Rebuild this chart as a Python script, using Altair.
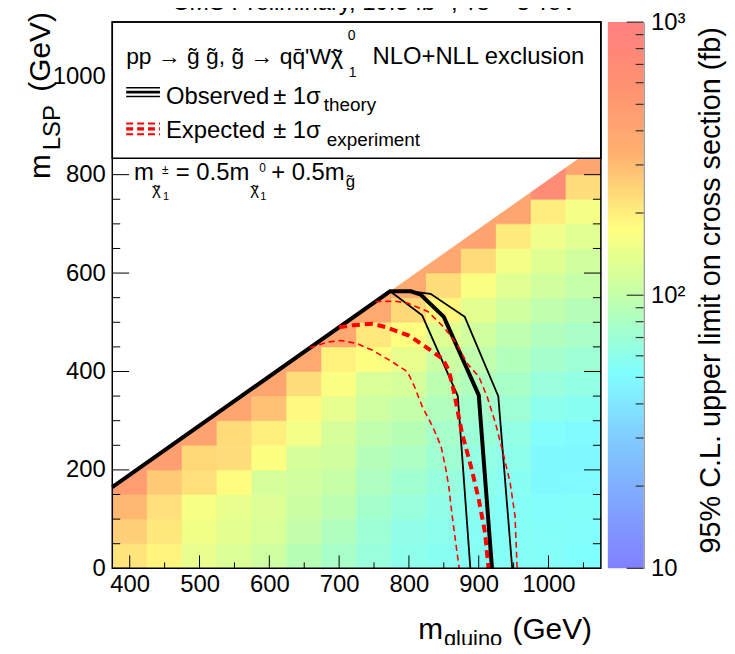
import altair as alt
import pandas as pd
import math

FONT = "Liberation Sans"
W, H = 492, 550

# ---------------- data ----------------
mgluino = [400, 450, 500, 550, 600, 650, 700, 750, 800, 850, 900, 950, 1000, 1050]
mlsp_edges = [0, 50, 100, 150, 200, 250, 300, 350, 400, 450, 500, 550, 600, 650, 700, 750, 800, 850, 900]
# 95% CL upper limit (fb), per gluino column, rows from mLSP=0 upwards
limits = [
    [215, 255, 310, 470, 470],
    [190, 210, 225, 270, 460, 460],
    [140, 155, 162, 225, 240, 420, 420],
    [124, 134, 140, 178, 228, 232, 400, 400],
    [110, 122, 126, 120, 172, 198, 285, 400, 400],
    [90, 99, 108, 113, 120, 158, 182, 228, 380, 380],
    [78, 84, 94, 103, 113, 120, 138, 168, 195, 380, 380],
    [67, 70, 76, 82, 88, 97, 110, 122, 172, 208, 380, 380],
    [60, 62, 67, 73, 81, 90, 100, 118, 140, 175, 240, 375, 375],
    [57, 59, 62, 66, 72, 77, 85, 94, 108, 130, 188, 230, 390, 390],
    [56, 56, 58, 60, 64, 69, 75, 84, 97, 113, 135, 168, 232, 410, 410],
    [55, 55, 55, 57, 60, 64, 71, 78, 86, 96, 112, 132, 158, 205, 405, 405],
    [54, 54, 53, 49, 49, 53, 59, 67, 75, 85, 97, 113, 130, 152, 200, 690, 690],
    [52, 53, 54, 50, 48, 50, 57, 63, 71, 79, 89, 101, 114, 133, 160, 228, 400, 400],
]

# kinematic boundary (white region above it)
diag_x = [375, 1075]
diag_y = [165, 865]
y_top = 1110

# exclusion contours
obs_x = [375, 773, 803, 817, 850, 900, 919]
obs_y = [165, 563, 563, 556, 511, 352, 0]
obs_up_x = [773, 803, 831, 880, 928, 948]
obs_up_y = [563, 563, 558, 511, 350, 0]
obs_dn_x = [773, 819, 870, 888]
obs_dn_y = [563, 514, 350, 0]
exp_x = [700, 720, 748, 767, 800, 817, 834, 848, 857, 864, 876, 890, 900, 909, 914]
exp_y = [490, 494, 497, 490, 473, 457, 440, 426, 403, 362, 275, 201, 140, 73, 0]
exp_up_x = [752, 779, 798, 827, 850, 869, 884, 900, 912, 924, 936, 945, 952, 955]
exp_up_y = [542, 543, 539, 522, 490, 455, 415, 390, 349, 295, 228, 174, 106, 0]
exp_dn_x = [658, 684, 703, 725, 748, 772, 791, 798, 808, 819, 834, 846, 853, 857, 862, 867, 872]
exp_dn_y = [448, 460, 463, 457, 443, 423, 406, 399, 369, 329, 288, 248, 201, 167, 106, 53, 0]

# axis ticks
x_major = [400, 500, 600, 700, 800, 900, 1000]
x_minor = [450, 550, 650, 750, 850, 950, 1050]
y_major = [0, 200, 400, 600, 800, 1000]
y_minor = [50, 100, 150, 250, 300, 350, 450, 500, 550, 650, 700, 750, 850, 900, 950, 1050, 1100]
cb_major = [10, 100, 1000]
cb_minor = [20, 30, 40, 50, 60, 70, 80, 90, 200, 300, 400, 500, 600, 700, 800, 900]

# colour palette (value -> colour)
pal_vals = [10, 16, 30, 52, 75, 100, 130, 175, 330, 600, 1000]
pal_cols = ["#8080ff", "#80a0ff", "#80ccff", "#80ffff", "#a4ffcc", "#c4ffaa",
            "#e0ff92", "#ffff80", "#ffb070", "#ff9070", "#ff8080"]

# ---------------- tables ----------------
cells = []
for xc, col in zip(mgluino, limits):
    for r, v in enumerate(col):
        cells.append(dict(x0=xc - 25, x1=xc + 25, y0=mlsp_edges[r], y1=mlsp_edges[r + 1], limit=v))
cells = pd.DataFrame(cells)


def curve(name, xs, ys):
    return pd.DataFrame({"curve": name, "i": list(range(len(xs))), "x": xs, "y": ys})


XS = alt.Scale(domain=[375, 1075], nice=False, zero=False)
YS = alt.Scale(domain=[0, y_top], nice=False, zero=False)
CS = alt.Scale(type="log", domain=pal_vals, range=pal_cols, interpolate="rgb")
CBS = alt.Scale(type="log", domain=[10, 1000], nice=False)

X_AX = alt.Axis(values=x_major, format="d", ticks=False, domain=False, grid=False, labelFontSize=24,
                labelFont=FONT, labelColor="black", labelPadding=4, labelFlush=False, title=None)
Y_AX = alt.Axis(values=y_major, format="d", ticks=False, domain=False, grid=False, labelFontSize=24,
                labelFont=FONT, labelColor="black", labelPadding=7, title=None)


def X(f):
    return alt.X(f, scale=XS, axis=X_AX)


def Y(f):
    return alt.Y(f, scale=YS, axis=Y_AX)


one = pd.DataFrame({"a": [0]})


def label(s, x, y, size=24, align="left", angle=0, color="black", baseline="alphabetic"):
    return alt.Chart(pd.DataFrame({"t": [s]})).mark_text(
        align=align, baseline=baseline, fontSize=size, font=FONT, angle=angle, color=color
    ).encode(x=alt.value(x), y=alt.value(y), text="t:N")


def hrule(x1, x2, y, color, width, dash=None):
    kw = dict(color=color, strokeWidth=width)
    if dash:
        kw["strokeDash"] = dash
    return alt.Chart(one).mark_rule(**kw).encode(x=alt.value(x1), x2=alt.value(x2), y=alt.value(y))


# ---------------- layers ----------------
heat = alt.Chart(cells).mark_rect(strokeWidth=0.6).encode(
    x=X("x0:Q"), x2="x1:Q", y=Y("y0:Q"), y2="y1:Q",
    color=alt.Color("limit:Q", scale=CS, legend=None),
    stroke=alt.Stroke("limit:Q", scale=CS, legend=None),
)

white = alt.Chart(pd.DataFrame({"x": diag_x, "y": diag_y, "top": [y_top, y_top]})).mark_area(
    color="white", opacity=1
).encode(x=X("x:Q"), y=Y("y:Q"), y2="top:Q")


def lines(df, **kw):
    return alt.Chart(df).mark_line(**kw).encode(x=X("x:Q"), y=Y("y:Q"), detail="curve:N", order="i:Q")


obs_band = lines(pd.concat([curve("up", obs_up_x, obs_up_y), curve("dn", obs_dn_x, obs_dn_y)]),
                 color="black", strokeWidth=1.8)
obs = lines(curve("obs", obs_x, obs_y), color="black", strokeWidth=4)
exp_band = lines(pd.concat([curve("up", exp_up_x, exp_up_y), curve("dn", exp_dn_x, exp_dn_y)]),
                 color="#ff0000", strokeWidth=1.6, strokeDash=[6, 4])
expd = lines(curve("exp", exp_x, exp_y), color="#ff0000", strokeWidth=4, strokeDash=[8, 5])


def yticks(vals, x1, x2):
    return alt.Chart(pd.DataFrame({"v": vals})).mark_rule(color="black", strokeWidth=1).encode(
        y=Y("v:Q"), x=alt.value(x1), x2=alt.value(x2))


def xticks(vals, ln):
    return alt.Chart(pd.DataFrame({"v": vals})).mark_rule(color="black", strokeWidth=1).encode(
        x=X("v:Q"), y=alt.value(H), y2=alt.value(H - ln))


ticks = [yticks(y_major, 0, 17), yticks(y_minor, 0, 8), yticks(y_major, W - 17, W), yticks(y_minor, W - 8, W),
         xticks(x_major, 13), xticks(x_minor, 6)]

legbox = alt.Chart(one).mark_rect(fill="white", stroke="black", strokeWidth=1.5).encode(
    x=alt.value(0), x2=alt.value(W), y=alt.value(0), y2=alt.value(137))

TIL = "\u02dc"
leg = [
    label("pp \u2192 g\u0303 g\u0303, g\u0303 \u2192 qq\u0304'W", 14, 42, 23),
    label("\u03c7", 220, 42, 24), label(TIL, 226.5, 44, 24, align="center"),
    label("0", 237, 18, 14),
    label("1", 238, 55, 14),
    label("NLO+NLL exclusion", 262, 42, 24),
    hrule(14, 48, 66, "black", 1.5), hrule(14, 48, 70.5, "black", 3), hrule(14, 48, 75, "black", 1.5),
    label("Observed", 54, 82, 24), label("\u00b1 1\u03c3", 162, 82, 24), label("theory", 213, 89, 19),
    hrule(14, 48, 102, "#ff0000", 2, [7, 4]), hrule(14, 48, 107.5, "#ff0000", 3.5, [7, 4]),
    hrule(14, 48, 113, "#ff0000", 2, [7, 4]),
    label("Expected", 54, 117, 24), label("\u00b1 1\u03c3", 162, 117, 24), label("experiment", 216, 125, 19),
]

formula = [
    label("m", 22, 159, 24),
    label("\u03c7", 40, 174, 17), label(TIL, 44.7, 176, 17, align="center"),
    label("\u00b1", 50, 153, 12), label("1", 51, 179, 11),
    label("= 0.5m", 64, 159, 24),
    label("\u03c7", 139, 174, 17), label(TIL, 143.7, 176, 17, align="center"),
    label("0", 148, 151, 12), label("1", 149, 179, 11),
    label("+ 0.5m", 160, 159, 24), label("g\u0303", 235, 166, 17),
]

frame = alt.Chart(one).mark_rect(fill="transparent", stroke="black", strokeWidth=1.5).encode(
    x=alt.value(0), x2=alt.value(W), y=alt.value(0), y2=alt.value(H))

titles = [
    label("m", 308, 621, 30), label("gluino", 334, 628, 22), label("(GeV)", 403, 621, 30),
    label("m", -63, 158, 30, angle=270), label("LSP", -53, 129, 24, angle=270),
    label("(GeV)", -63, 70, 30, angle=270),
    label("95% C.L. upper limit on cross section (fb)", 612, 270, 29, align="center", angle=270),
    label("CMS Preliminary, 19.5 fb\u207b\u00b9, \u221as = 8 TeV", 264, -12, 24, align="center"),
]

stops = [{"offset": math.log10(v / 10) / 2, "color": c} for v, c in zip(pal_vals, pal_cols)]
cbar = alt.Chart(one).mark_rect(
    fill={"gradient": "linear", "x1": 0, "x2": 0, "y1": 1, "y2": 0, "stops": stops}
).encode(x=alt.value(499), x2=alt.value(535), y=alt.value(0), y2=alt.value(H))

inner = alt.layer(heat, white, obs_band, obs, exp_band, expd, *ticks, legbox, *leg, *formula,
                  frame, cbar, *titles)

CB_AX = alt.Axis(orient="right", offset=43, values=cb_major,
                 labelExpr="datum.value >= 999 ? '10\u00b3' : (datum.value >= 99 ? '10\u00b2' : '10')",
                 ticks=False, domain=True, domainColor="#555555", domainWidth=1, grid=False,
                 labelFontSize=24, labelFont=FONT, labelColor="black", labelPadding=7,
                 labelBaseline="middle", title=None)

cb_major_l = alt.Chart(pd.DataFrame({"v": cb_major})).mark_rule(color="#333333", strokeWidth=1.2).encode(
    y=alt.Y("v:Q", scale=CBS, axis=CB_AX), x=alt.value(535 - 17), x2=alt.value(535))
cb_minor_l = alt.Chart(pd.DataFrame({"v": cb_minor})).mark_rule(color="#333333", strokeWidth=1.2).encode(
    y=alt.Y("v:Q", scale=CBS, axis=CB_AX), x=alt.value(535 - 8), x2=alt.value(535))
cb = alt.layer(cb_major_l, cb_minor_l)

chart = alt.layer(inner, cb).resolve_scale(y="independent").properties(
    width=W, height=H,
    autosize=alt.AutoSizeParams(type="none"),
    padding={"left": 105, "top": 12, "right": 127, "bottom": 75},
    background="white",
).configure_view(stroke=None)

chart.save("out.html", embed_options={"renderer": "svg", "actions": False})
